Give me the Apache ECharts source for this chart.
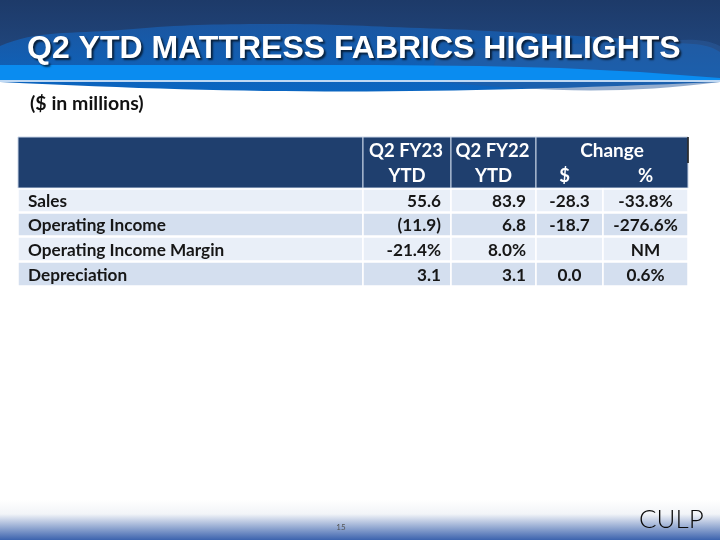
<!DOCTYPE html>
<html>
<head>
<meta charset="utf-8">
<script src="https://cdn.jsdelivr.net/npm/echarts@6/dist/echarts.min.js"></script>
<style>
html,body{margin:0;padding:0;background:#fff;}
#main{width:720px;height:540px;}
</style>
</head>
<body>
<div id="main"></div>
<script>
// ---- data ----
const titleText = 'Q2 YTD MATTRESS FABRICS HIGHLIGHTS';
const subtitleText = '($ in millions)';
const rowLabels = ['Sales', 'Operating Income', 'Operating Income Margin', 'Depreciation'];
const q2fy23 = ['55.6', '(11.9)', '-21.4%', '3.1'];
const q2fy22 = ['83.9', '6.8', '8.0%', '3.1'];
const changeDollar = ['-28.3', '-18.7', '', '0.0'];
const changePct = ['-33.8%', '-276.6%', 'NM', '0.6%'];
const headerTop = ['', 'Q2 FY23', 'Q2 FY22', 'Change'];
const headerBottom = ['', 'YTD', 'YTD', '$', '%'];
const pageNumber = '15';
const logoText = 'CULP';

// ---- layout (not data) ----
const colEdges = [0, 345, 433, 518, 585, 670];
const rowEdges = [0, 51, 75, 99, 124, 149];
const rowFills = ['#E9EFF8', '#D4DFEF', '#E9EFF8', '#D4DFEF'];
const HEAD = '#1F3F6E';
const FONT = 'Lato, "Open Sans", sans-serif';

const cells = [];
cells.push({c0: 0, c1: 1, r0: 0, r1: 1, kind: 'head', lines: []});
cells.push({c0: 1, c1: 2, r0: 0, r1: 1, kind: 'head', lines: [headerTop[1], headerBottom[1]]});
cells.push({c0: 2, c1: 3, r0: 0, r1: 1, kind: 'head', lines: [headerTop[2], headerBottom[2]]});
cells.push({c0: 3, c1: 5, r0: 0, r1: 1, kind: 'headSpan', lines: [headerTop[3], headerBottom[3], headerBottom[4]]});
const cols = [rowLabels, q2fy23, q2fy22, changeDollar, changePct];
const aligns = ['left', 'right', 'right', 'center', 'center'];
for (let r = 0; r < rowLabels.length; r++) {
  for (let c = 0; c < cols.length; c++) {
    cells.push({c0: c, c1: c + 1, r0: r + 1, r1: r + 2, kind: 'body', text: cols[c][r], align: aligns[c], row: r});
  }
}

const chart = echarts.init(document.getElementById('main'), null, {renderer: 'canvas'});

function renderItem(params, api) {
  const cell = cells[params.dataIndex];
  const p0 = api.coord([colEdges[cell.c0], rowEdges[cell.r0]]);
  const p1 = api.coord([colEdges[cell.c1], rowEdges[cell.r1]]);
  const x = p0[0], y = p0[1], w = p1[0] - p0[0], h = p1[1] - p0[1];
  const children = [];
  if (cell.kind === 'body') {
    children.push({type: 'rect', shape: {x: x, y: y + 1, width: w, height: h - 1},
      style: {fill: rowFills[cell.row], stroke: '#fff', lineWidth: 1.5}});
    let tx = x + w / 2;
    if (cell.align === 'left') tx = x + 10;
    if (cell.align === 'right') tx = x + w - 10;
    children.push({type: 'text', style: {text: cell.text, x: tx, y: y + h / 2 + 1.5, align: cell.align,
      verticalAlign: 'middle', font: 'bold 17.2px ' + FONT, fill: '#161616'}});
  } else {
    children.push({type: 'rect', shape: {x: x, y: y, width: w, height: h},
      style: {fill: HEAD, stroke: '#C8D4E6', lineWidth: 1}});
    const f = 'bold 18.5px ' + FONT;
    if (cell.kind === 'head' && cell.lines.length) {
      children.push({type: 'text', style: {text: cell.lines[0], x: x + w / 2 - 1, y: y + 14, align: 'center', verticalAlign: 'middle', font: f, fill: '#fff'}});
      children.push({type: 'text', style: {text: cell.lines[1], x: x + w / 2, y: y + 39, align: 'center', verticalAlign: 'middle', font: f, fill: '#fff'}});
    } else if (cell.kind === 'headSpan') {
      children.push({type: 'text', style: {text: cell.lines[0], x: x + w / 2, y: y + 14, align: 'center', verticalAlign: 'middle', font: 'bold 19px ' + FONT, fill: '#fff'}});
      const mid = api.coord([colEdges[3], 0])[0];
      const mid2 = api.coord([colEdges[4], 0])[0];
      const end = api.coord([colEdges[5], 0])[0];
      children.push({type: 'text', style: {text: cell.lines[1], x: (mid + mid2) / 2 - 5, y: y + 39, align: 'center', verticalAlign: 'middle', font: f, fill: '#fff'}});
      children.push({type: 'text', style: {text: cell.lines[2], x: (mid2 + end) / 2, y: y + 39, align: 'center', verticalAlign: 'middle', font: f, fill: '#fff'}});
      children.push({type: 'line', shape: {x1: end, y1: y, x2: end, y2: y + 26}, style: {stroke: '#111', lineWidth: 1.5}});
    }
  }
  return {type: 'group', children: children};
}

const option = {
  animation: false,
  backgroundColor: '#fff',
  grid: {left: 18, top: 137, width: 670, height: 149},
  xAxis: {type: 'value', min: 0, max: 670, show: false},
  yAxis: {type: 'value', min: 0, max: 149, inverse: true, show: false},
  graphic: [
    {type: 'rect', z: -10, shape: {x: 0, y: 0, width: 720, height: 82},
      style: {fill: new echarts.graphic.LinearGradient(0, 0, 0, 1, [
        {offset: 0, color: '#1D3A69'}, {offset: 0.6, color: '#20457B'}, {offset: 1, color: '#1F4C8A'}])}},
    {type: 'polygon', z: -9, shape: {smooth: 0.4, points: [[0, 46], [120, 30], [260, 24], [420, 28], [560, 35], [660, 42], [720, 52], [720, 82], [0, 82]]},
      style: {fill: new echarts.graphic.LinearGradient(0, 0, 0, 1, [
        {offset: 0, color: '#1B56A0'}, {offset: 1, color: '#0A66C2'}])}},
    {type: 'polygon', z: -8, shape: {smooth: 0.4, points: [[440, 56], [540, 46], [640, 42], [720, 46], [720, 82], [440, 82]]},
      style: {fill: '#2A5C9E', opacity: 0.5}},
    {type: 'polygon', z: -7, shape: {points: [[0, 65], [380, 65], [480, 66], [560, 68], [640, 72], [720, 78], [720, 82], [0, 82]]},
      style: {fill: '#0A8CF0'}},
    {type: 'rect', z: -6, shape: {x: 0, y: 80, width: 720, height: 2}, style: {fill: '#BFD9F4'}},
    {type: 'text', z: 5, x: 27, y: 49, style: {text: titleText, font: 'bold 32px "Liberation Sans", Arial, sans-serif',
      fill: '#fff', verticalAlign: 'middle', textShadowColor: 'rgba(0,0,0,0.65)', textShadowOffsetX: 2, textShadowOffsetY: 2, textShadowBlur: 2}},
    {type: 'text', x: 30, y: 104, style: {text: subtitleText, font: 'bold 19.5px ' + FONT, fill: '#111', verticalAlign: 'middle'}},
    {type: 'rect', z: -10, shape: {x: 0, y: 500, width: 720, height: 40},
      style: {fill: new echarts.graphic.LinearGradient(0, 0, 0, 1, [
        {offset: 0, color: 'rgba(255,255,255,1)'}, {offset: 0.35, color: '#F2F4F8'}, {offset: 1, color: '#3C63AE'}])}},
    {type: 'text', x: 341, y: 527, style: {text: pageNumber, font: '8px ' + FONT, fill: '#555', align: 'center', verticalAlign: 'middle'}},
    {type: 'text', x: 639, y: 520, style: {text: logoText, font: '300 26px ' + FONT, fill: '#0a0a0a', verticalAlign: 'middle'}}
  ],
  series: [{
    type: 'custom',
    renderItem: renderItem,
    data: cells.map((c, i) => [colEdges[c.c0], rowEdges[c.r0], i]),
    encode: {x: 0, y: 1},
    clip: false
  }]
};
chart.setOption(option);
</script>
</body>
</html>
